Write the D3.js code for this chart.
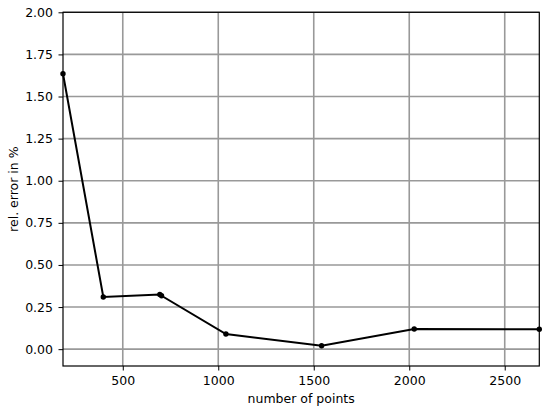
<!DOCTYPE html>
<html>
<head>
<meta charset="utf-8">
<script src="https://cdn.jsdelivr.net/npm/d3@7"></script>
<style>
  body { margin: 0; background: #fff; }
  svg text { font-family: "DejaVu Sans", sans-serif; fill: #000; }
</style>
</head>
<body>
<div id="chart"></div>
<script>
// data
var numPoints = [187, 398, 694, 703, 1040, 1541, 2026, 2681];
var relError  = [1.635, 0.31, 0.325, 0.317, 0.09, 0.02, 0.12, 0.118];
var xTicks = [500, 1000, 1500, 2000, 2500];
var yTicks = [0, 0.25, 0.5, 0.75, 1.0, 1.25, 1.5, 1.75, 2.0];

var W = 550, H = 414;
var margin = {top: 12.3, right: 10.7, bottom: 48, left: 63};
var width = W - margin.left - margin.right,
    height = H - margin.top - margin.bottom;

var svg = d3.select('#chart')
  .append('svg')
  .attr('width', W)
  .attr('height', H)
  .append('g')
  .attr('transform', 'translate(' + margin.left + ',' + margin.top + ')');

var x = d3.scaleLinear().domain([187, 2681]).range([0, width]);
var y = d3.scaleLinear().domain([-0.1, 2.0]).range([height, 0]);

// grid
svg.selectAll('.vgrid').data(xTicks).enter().append('line')
  .attr('x1', function(d) { return x(d); }).attr('x2', function(d) { return x(d); })
  .attr('y1', 0).attr('y2', height)
  .attr('stroke', '#999').attr('stroke-width', 1.6);
svg.selectAll('.hgrid').data(yTicks).enter().append('line')
  .attr('y1', function(d) { return y(d); }).attr('y2', function(d) { return y(d); })
  .attr('x1', 0).attr('x2', width)
  .attr('stroke', '#999').attr('stroke-width', 1.6);

// axes
var xAxis = svg.append('g')
  .attr('transform', 'translate(0,' + height + ')')
  .call(d3.axisBottom(x).tickValues(xTicks).tickSize(4.5).tickPadding(5.5).tickFormat(d3.format('d')));
var yAxis = svg.append('g')
  .call(d3.axisLeft(y).tickValues(yTicks).tickSize(4.5).tickPadding(5.5).tickFormat(d3.format('.2f')));
[xAxis, yAxis].forEach(function(a) {
  a.select('.domain').remove();
  a.selectAll('text').style('font-size', '12.5px').attr('fill', '#000');
  a.selectAll('line').attr('stroke', '#000').attr('stroke-width', 1);
});

// frame
svg.append('rect')
  .attr('width', width).attr('height', height)
  .attr('fill', 'none').attr('stroke', '#000').attr('stroke-width', 1.2);

var data = numPoints.map(function(n, i) { return {n: n, e: relError[i]}; });

var line = d3.line()
  .x(function(d) { return x(d.n); })
  .y(function(d) { return y(d.e); });

svg.append('path')
  .datum(data)
  .attr('d', line)
  .attr('fill', 'none')
  .attr('stroke', '#000')
  .attr('stroke-width', 2);

svg.selectAll('.dot').data(data).enter().append('circle')
  .attr('cx', function(d) { return x(d.n); })
  .attr('cy', function(d) { return y(d.e); })
  .attr('r', 2.7)
  .attr('fill', '#000');

// labels
svg.append('text')
  .attr('x', width / 2).attr('y', height + 37)
  .attr('text-anchor', 'middle')
  .style('font-size', '12.5px')
  .text('number of points');

svg.append('text')
  .attr('transform', 'translate(-45,' + (height / 2) + ') rotate(-90)')
  .attr('text-anchor', 'middle')
  .style('font-size', '12.5px')
  .text('rel. error in %');
</script>
</body>
</html>
